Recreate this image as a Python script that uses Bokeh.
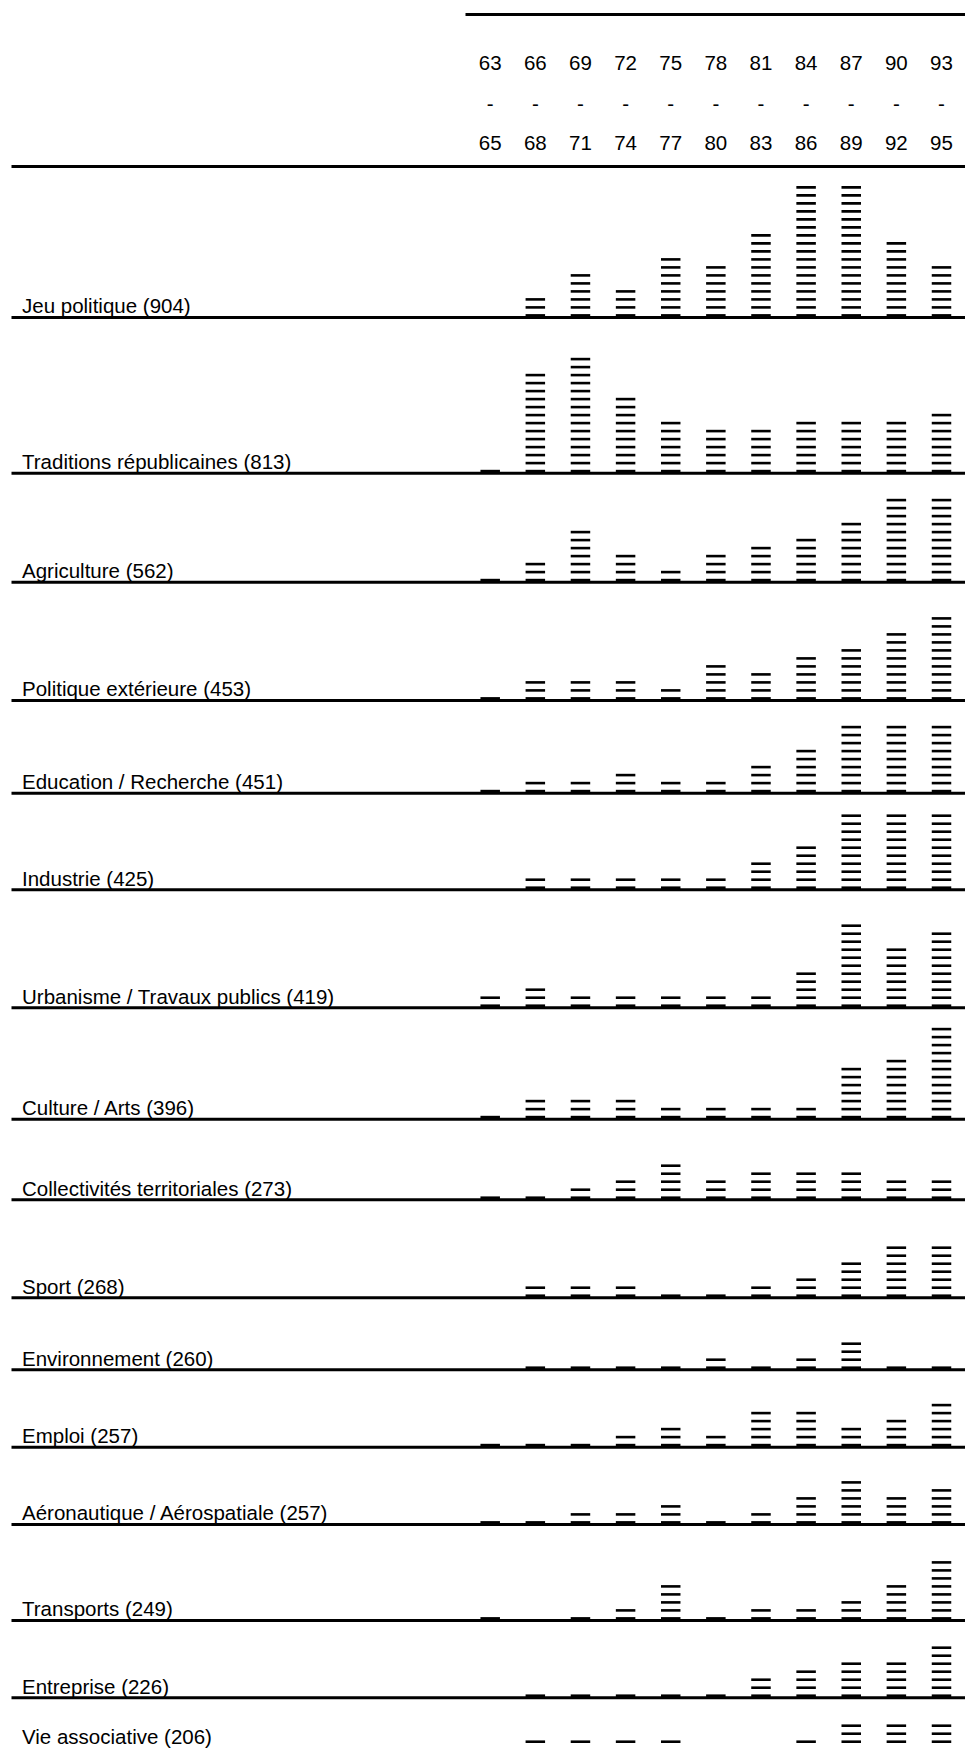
from bokeh.plotting import figure
from bokeh.models import Range1d
from bokeh.core.properties import value
from bokeh.embed import file_html
from bokeh.resources import INLINE

# ---------------- data ----------------
period_start = ["63", "66", "69", "72", "75", "78", "81", "84", "87", "90", "93"]
period_end = ["65", "68", "71", "74", "77", "80", "83", "86", "89", "92", "95"]

themes = [
    "Jeu politique",
    "Traditions républicaines",
    "Agriculture",
    "Politique extérieure",
    "Education / Recherche",
    "Industrie",
    "Urbanisme / Travaux publics",
    "Culture / Arts",
    "Collectivités territoriales",
    "Sport",
    "Environnement",
    "Emploi",
    "Aéronautique / Aérospatiale",
    "Transports",
    "Entreprise",
    "Vie associative",
]
totals = [904, 813, 562, 453, 451, 425, 419, 396, 273, 268, 260, 257, 257, 249, 226, 206]

jeu_politique = [0, 3, 6, 4, 8, 7, 11, 17, 17, 10, 7]
traditions = [1, 13, 15, 10, 7, 6, 6, 7, 7, 7, 8]
agriculture = [1, 3, 7, 4, 2, 4, 5, 6, 8, 11, 11]
politique_ext = [1, 3, 3, 3, 2, 5, 4, 6, 7, 9, 11]
education = [1, 2, 2, 3, 2, 2, 4, 6, 9, 9, 9]
industrie = [0, 2, 2, 2, 2, 2, 4, 6, 10, 10, 10]
urbanisme = [2, 3, 2, 2, 2, 2, 2, 5, 11, 8, 10]
culture = [1, 3, 3, 3, 2, 2, 2, 2, 7, 8, 12]
collectivites = [1, 1, 2, 3, 5, 3, 4, 4, 4, 3, 3]
sport = [0, 2, 2, 2, 1, 1, 2, 3, 5, 7, 7]
environnement = [0, 1, 1, 1, 1, 2, 1, 2, 4, 1, 1]
emploi = [1, 1, 1, 2, 3, 2, 5, 5, 3, 4, 6]
aeronautique = [1, 1, 2, 2, 3, 1, 2, 4, 6, 4, 5]
transports = [1, 0, 1, 2, 5, 1, 2, 2, 3, 5, 8]
entreprise = [0, 1, 1, 1, 1, 1, 3, 4, 5, 5, 7]
vie_associative = [0, 2, 2, 2, 2, 1, 1, 2, 4, 4, 4]

counts = [jeu_politique, traditions, agriculture, politique_ext, education,
          industrie, urbanisme, culture, collectivites, sport, environnement,
          emploi, aeronautique, transports, entreprise, vie_associative]

# ---------------- layout (screen pixels) ----------------
W, H = 965, 1748
COL0, COLW = 489.7, 45.13          # centre of first period column, column pitch
TOP_RULE_Y, TOP_RULE_X0 = 14, 465
HEAD_RULE_Y = 166
HEAD_Y = (62, 103, 142)
RULE_X0, RULE_X1 = 11, 965
ROW_HEIGHT = [151, 155.7, 109, 118.3, 92.7, 96.6, 118, 111.4, 80.6, 98, 72,
              77.4, 77.3, 96, 77.3, 54]
DASH_STEP, DASH_OFF, DASH_W, DASH_H = 8, 2.1, 19.5, 2.6
LABEL_X, LABEL_DY, LABEL_SIZE = 21.5, 11.8, 20.5
HALF_BOX = 0.56 * LABEL_SIZE       # half of the font's ascent+descent box
FONT = value("Liberation Sans")

p = figure(width=W, height=H, output_backend="svg", toolbar_location=None,
           x_range=Range1d(0, W), y_range=Range1d(H, 0),
           x_axis_location=None, y_axis_location=None, min_border=0,
           outline_line_color=None, background_fill_color="white",
           border_fill_color="white")
p.grid.visible = False

col_x = [COL0 + i * COLW for i in range(len(period_start))]

# header
p.segment(x0=[TOP_RULE_X0], y0=[TOP_RULE_Y], x1=[RULE_X1], y1=[TOP_RULE_Y],
          line_color="black", line_width=3)
for txt, yy in ((period_start, HEAD_Y[0]), (["-"] * len(period_start), HEAD_Y[1]),
                (period_end, HEAD_Y[2])):
    p.text(x=col_x, y=[yy] * len(col_x), text=txt, text_font=FONT,
           text_font_size="20.5px", text_align="center", text_baseline="middle",
           text_color="black")

# rows
baselines = []
y = HEAD_RULE_Y
for h in ROW_HEIGHT:
    y += h
    baselines.append(y)

rule_y = [HEAD_RULE_Y] + baselines
p.segment(x0=[RULE_X0] * len(rule_y), y0=rule_y, x1=[RULE_X1] * len(rule_y),
          y1=rule_y, line_color="black", line_width=3)

dx, dy = [], []
for r, row in enumerate(counts):
    for c, n in enumerate(row):
        for k in range(n):
            dx.append(col_x[c])
            dy.append(baselines[r] - DASH_OFF - k * DASH_STEP)
p.rect(x=dx, y=dy, width=DASH_W, height=DASH_H, fill_color="black",
       line_color=None)

labels = [f"{t} ({n})" for t, n in zip(themes, totals)]
label_y = [min(b - LABEL_DY, H - HALF_BOX - 0.5) for b in baselines]
p.text(x=[LABEL_X] * len(labels), y=label_y,
       text=labels, text_font=FONT, text_font_size=f"{LABEL_SIZE}px",
       text_align="left", text_baseline="middle", text_color="black")

open("out.html", "w").write(file_html(p, INLINE))
